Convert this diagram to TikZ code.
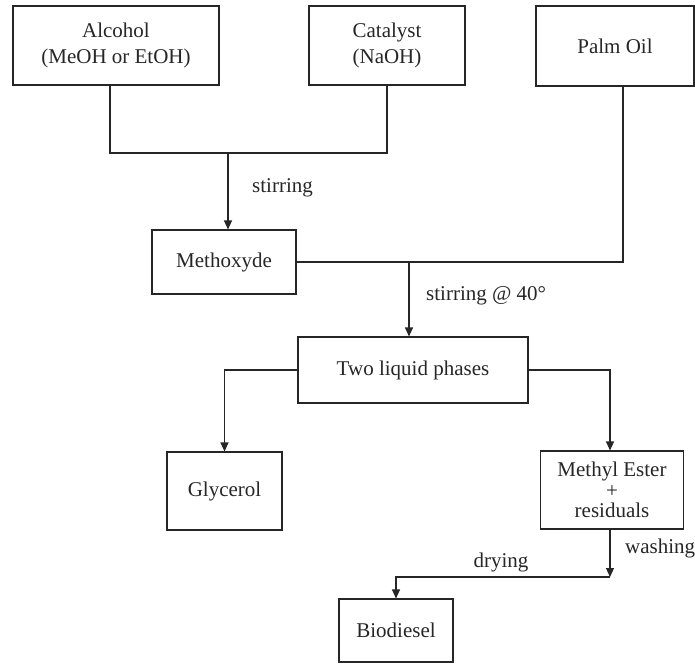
\documentclass[tikz,border=0pt]{standalone}
\usepackage{fontspec}
\setmainfont{Liberation Serif}
\usetikzlibrary{arrows.meta}
\begin{document}
\begin{tikzpicture}[x=1pt,y=-1pt,
  every node/.style={font=\fontsize{21}{25.5}\selectfont, text=black!85},
  box/.style={draw=black!85, line width=1.1pt, inner sep=0pt, align=center},
  conn/.style={draw=black!85, line width=1.1pt},
  arr/.style={conn, -{Triangle[length=9pt,width=8pt]}},
  lbl/.style={inner sep=0pt, anchor=base west}]
\useasboundingbox (0,0) rectangle (695,663);
% boxes
\node[box, minimum width=206pt, minimum height=79pt] (alc) at (116,45.5) {Alcohol\\(MeOH or EtOH)};
\node[box, minimum width=156pt, minimum height=79pt] (cat) at (387,45.5) {Catalyst\\(NaOH)};
\node[box, minimum width=158pt, minimum height=80pt] (palm) at (615,46) {Palm Oil};
\node[box, minimum width=144pt, minimum height=64pt] (meth) at (224,262) {Methoxyde};
\node[box, minimum width=230pt, minimum height=66pt] (two) at (413,370) {Two liquid phases};
\node[box, minimum width=115pt, minimum height=78pt] (gly) at (224.5,491) {Glycerol};
\node[box, minimum width=143pt, minimum height=78pt, font=\fontsize{21}{20.5}\selectfont] (me) at (612,490) {Methyl Ester\\+\\residuals};
\node[box, minimum width=114pt, minimum height=63pt] (bio) at (396,630.5) {Biodiesel};
% junctions
\coordinate (j1) at (228,153);
\coordinate (j2) at (409,262);
\coordinate (j3) at (610,577);
% connectors
\draw[conn] ([xshift=-6pt]alc.south) |- (j1) -| (cat.south);
\draw[arr] (j1) -- (j1 |- meth.north);
\draw[conn] ([xshift=8pt]palm.south) |- (meth.east);
\draw[arr] (j2) -- (j2 |- two.north);
\draw[arr] (two.west) -| (gly.north);
\draw[arr] (two.east) -| ([xshift=-2pt]me.north);
\draw[arr] (me.south -| j3) -- (j3);
\draw[arr] (j3) -| (bio.north);
% labels
\node[lbl] (l1) at (252,192) {stirring};
\node[lbl] (l2) at (426,300) {stirring @ 40°};
\node[lbl, anchor=base] (l3) at (501,567) {drying};
\node[lbl] (l4) at (625,553) {washing};
\end{tikzpicture}
\end{document}
